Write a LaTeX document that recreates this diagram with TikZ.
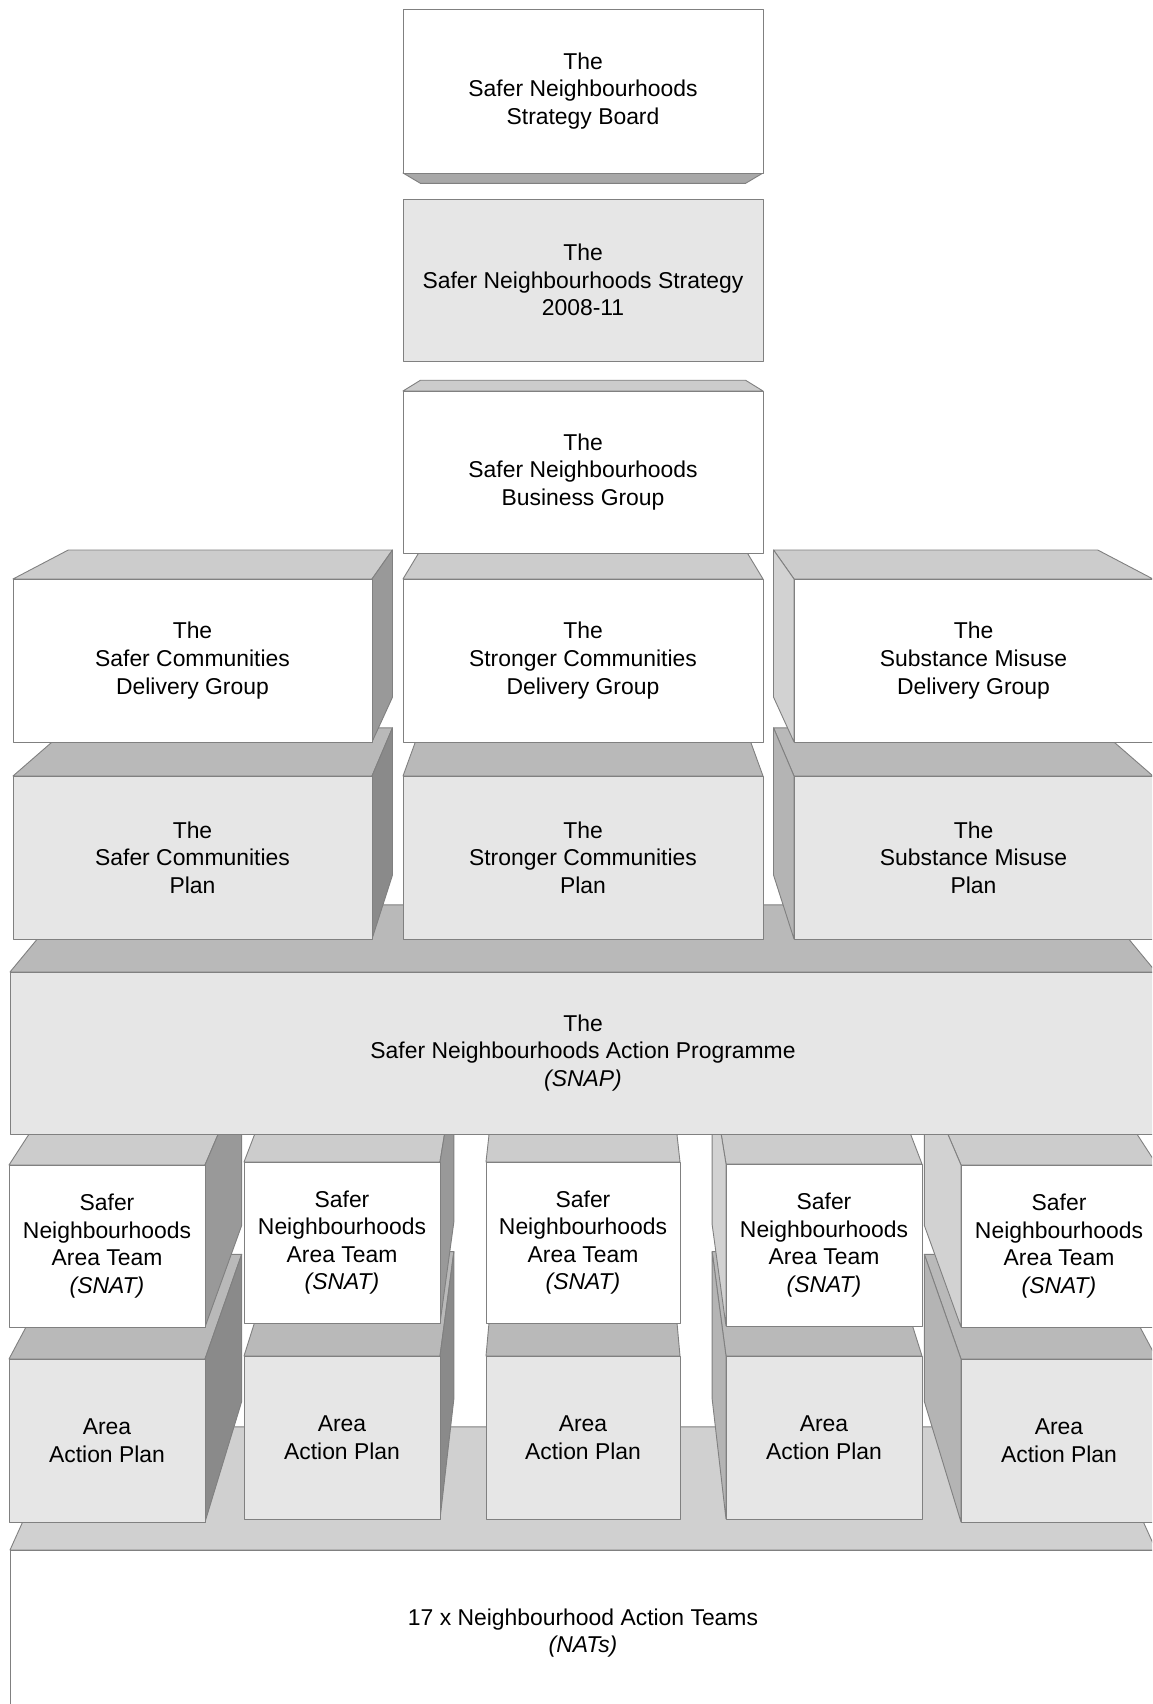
\documentclass[tikz,border=0pt]{standalone}
\usepackage{fontspec}
\setmainfont{Liberation Sans}
\definecolor{linegray}{HTML}{808080}
\definecolor{wfront}{HTML}{FFFFFF}
\definecolor{gfront}{HTML}{E6E6E6}
\definecolor{wtop}{HTML}{CCCCCC}
\definecolor{gtop}{HTML}{B9B9B9}
\definecolor{wbot}{HTML}{A8A8A8}
\definecolor{wright}{HTML}{999999}
\definecolor{gright}{HTML}{8A8A8A}
\definecolor{wleft}{HTML}{D2D2D2}
\definecolor{gleft}{HTML}{B4B4B4}
\definecolor{ntop}{HTML}{D0D0D0}
\newcommand\mainfnt{\fontsize{22.9}{27.6}\selectfont}
\tikzset{
  edge/.style={draw=linegray, line width=0.9pt, line join=round},
  frontbox/.style={rectangle, edge, inner sep=0pt, outer sep=0pt, align=center, font=\mainfnt},
}
\def\dep{0.097}
% faces of a perspective box: x1,y1,x2,y2, top/bottom colour, side colour
\newcommand\cubefaces[6]{%
  \pgfmathsetmacro\bxa{#1+\dep*(583-#1)}%
  \pgfmathsetmacro\bxb{#3+\dep*(583-#3)}%
  \pgfmathsetmacro\bya{#2+\dep*(280-#2)}%
  \pgfmathsetmacro\byb{#4+\dep*(280-#4)}%
  \ifdim #2pt>280pt \path[edge, fill=#5] (#1,#2)--(#3,#2)--(\bxb,\bya)--(\bxa,\bya)--cycle;\fi
  \ifdim #4pt<280pt \path[edge, fill=#5] (#1,#4)--(#3,#4)--(\bxb,\byb)--(\bxa,\byb)--cycle;\fi
  \ifdim #1pt>583pt \path[edge, fill=#6] (#1,#2)--(\bxa,\bya)--(\bxa,\byb)--(#1,#4)--cycle;\fi
  \ifdim #3pt<583pt \path[edge, fill=#6] (#3,#2)--(\bxb,\bya)--(\bxb,\byb)--(#3,#4)--cycle;\fi
}
% front face node: x1,y1,x2,y2, fill, name ; followed by {text};
\newcommand\frontface[6]{\node[frontbox, fill=#5, minimum width={(#3-#1)*1pt}, minimum height={(#4-#2)*1pt}] (#6) at ({(#1+#3)/2},{(#2+#4)/2})}
\begin{document}
\begin{tikzpicture}[x=1pt,y=-1pt]
\clip (0,0) rectangle (1152,1704);
\fill[white] (0,0) rectangle (1152,1704);
% top column
\cubefaces{403}{9}{763}{173}{wbot}{wright}
\frontface{403}{9}{763}{173}{wfront}{board} {The\\Safer Neighbourhoods\\Strategy Board};
\frontface{403}{199}{763}{361}{gfront}{strategy} {The\\Safer Neighbourhoods Strategy\\2008-11};
% base
\cubefaces{10}{1550}{1156}{1716}{ntop}{wright}
\frontface{10}{1550}{1156}{1716}{wfront}{nats} {17 x Neighbourhood Action Teams\\\textit{(NATs)}};
% area action plans
\cubefaces{9}{1359}{205}{1522}{gtop}{gright}
\frontface{9}{1359}{205}{1522}{gfront}{aap1} {Area\\Action Plan};
\cubefaces{244}{1356}{440}{1519}{gtop}{gright}
\frontface{244}{1356}{440}{1519}{gfront}{aap2} {Area\\Action Plan};
\cubefaces{486}{1356}{680}{1519}{gtop}{gright}
\frontface{486}{1356}{680}{1519}{gfront}{aap3} {Area\\Action Plan};
\cubefaces{726}{1356}{922}{1519}{gtop}{gleft}
\frontface{726}{1356}{922}{1519}{gfront}{aap4} {Area\\Action Plan};
\cubefaces{961}{1359}{1157}{1522}{gtop}{gleft}
\frontface{961}{1359}{1157}{1522}{gfront}{aap5} {Area\\Action Plan};
% SNATs
\cubefaces{9}{1165}{205}{1327}{wtop}{wright}
\frontface{9}{1165}{205}{1327}{wfront}{snat1} {Safer\\Neighbourhoods\\Area Team\\\textit{(SNAT)}};
\cubefaces{244}{1162}{440}{1323}{wtop}{wright}
\frontface{244}{1162}{440}{1323}{wfront}{snat2} {Safer\\Neighbourhoods\\Area Team\\\textit{(SNAT)}};
\cubefaces{486}{1162}{680}{1323}{wtop}{wright}
\frontface{486}{1162}{680}{1323}{wfront}{snat3} {Safer\\Neighbourhoods\\Area Team\\\textit{(SNAT)}};
\cubefaces{726}{1164}{922}{1326}{wtop}{wleft}
\frontface{726}{1164}{922}{1326}{wfront}{snat4} {Safer\\Neighbourhoods\\Area Team\\\textit{(SNAT)}};
\cubefaces{961}{1165}{1157}{1327}{wtop}{wleft}
\frontface{961}{1165}{1157}{1327}{wfront}{snat5} {Safer\\Neighbourhoods\\Area Team\\\textit{(SNAT)}};
% SNAP
\cubefaces{10}{972}{1156}{1134}{gtop}{gright}
\frontface{10}{972}{1156}{1134}{gfront}{snap} {The\\Safer Neighbourhoods Action Programme\\\textit{(SNAP)}};
% plans
\cubefaces{13}{776}{372}{939}{gtop}{gright}
\frontface{13}{776}{372}{939}{gfront}{scplan} {The\\Safer Communities\\Plan};
\cubefaces{403}{776}{763}{939}{gtop}{gright}
\frontface{403}{776}{763}{939}{gfront}{stplan} {The\\Stronger Communities\\Plan};
\cubefaces{794}{776}{1153}{939}{gtop}{gleft}
\frontface{794}{776}{1153}{939}{gfront}{smplan} {The\\Substance Misuse\\Plan};
% delivery groups
\cubefaces{13}{579}{372}{742}{wtop}{wright}
\frontface{13}{579}{372}{742}{wfront}{scdg} {The\\Safer Communities\\Delivery Group};
\cubefaces{403}{579}{763}{742}{wtop}{wright}
\frontface{403}{579}{763}{742}{wfront}{stdg} {The\\Stronger Communities\\Delivery Group};
\cubefaces{794}{579}{1153}{742}{wtop}{wleft}
\frontface{794}{579}{1153}{742}{wfront}{smdg} {The\\Substance Misuse\\Delivery Group};
% business group
\cubefaces{403}{391}{763}{553}{wtop}{wright}
\frontface{403}{391}{763}{553}{wfront}{business} {The\\Safer Neighbourhoods\\Business Group};
\end{tikzpicture}
\end{document}
